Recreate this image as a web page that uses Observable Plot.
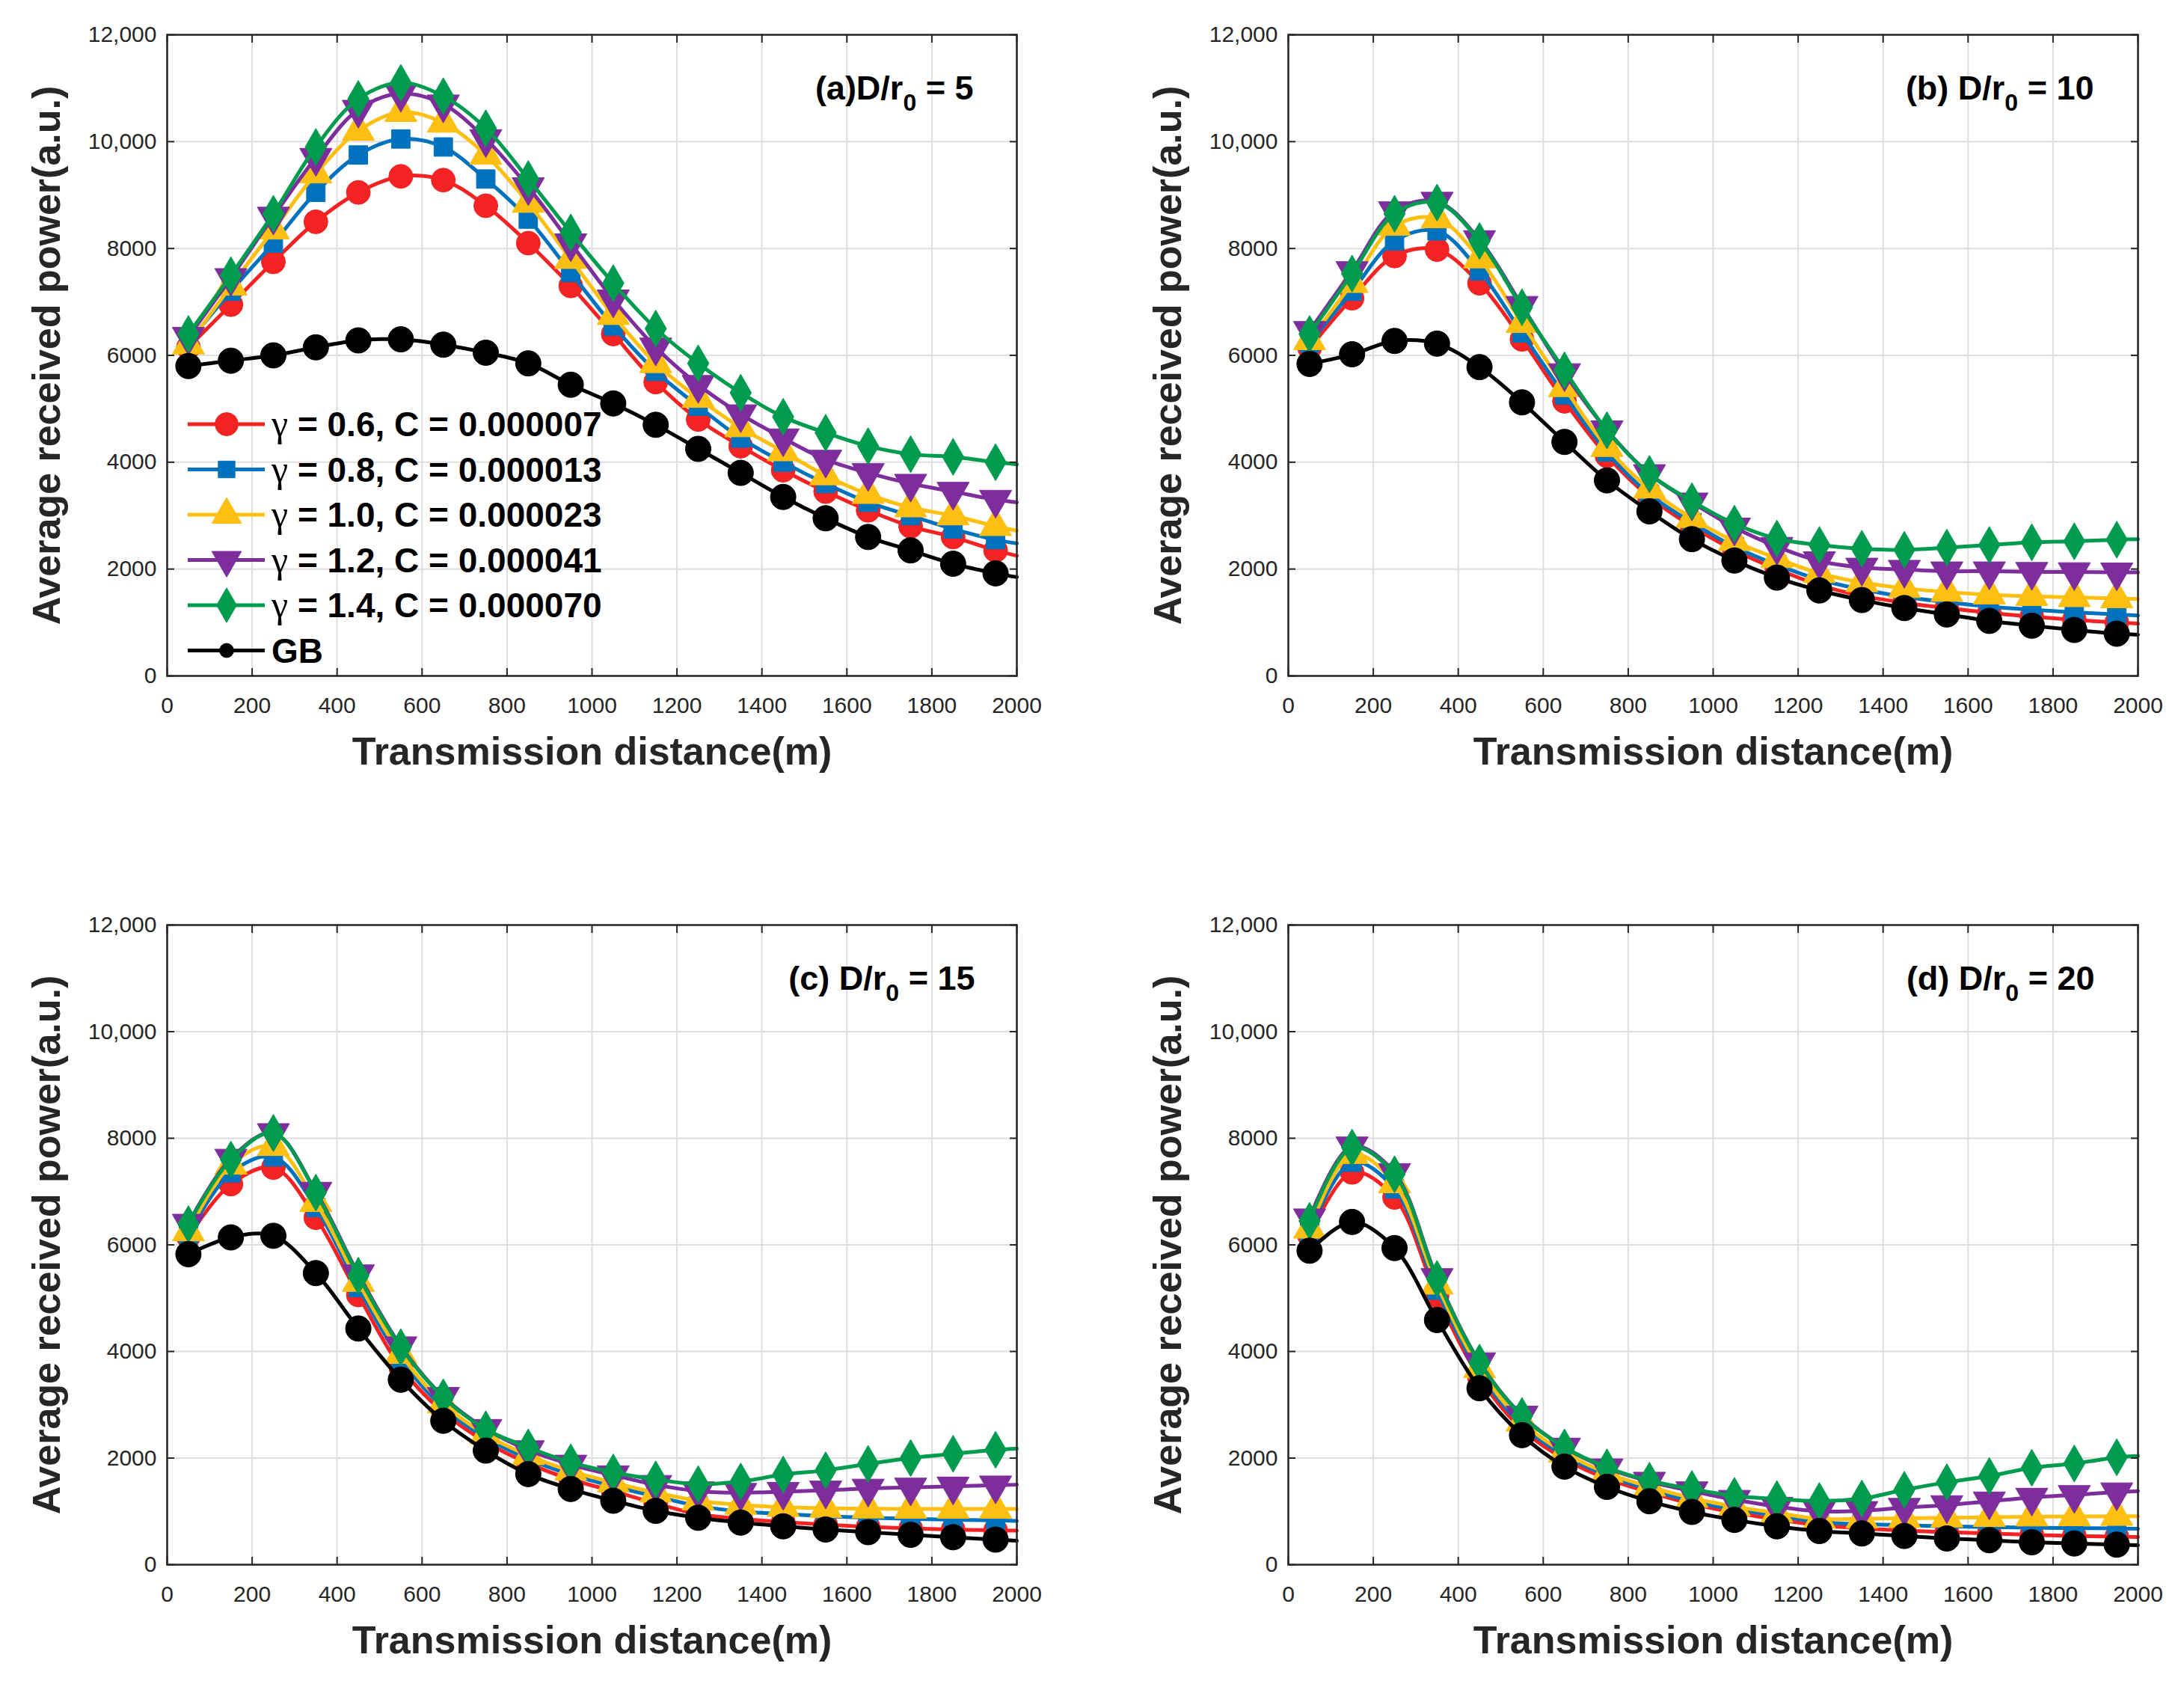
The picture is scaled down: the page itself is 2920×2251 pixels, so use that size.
<!DOCTYPE html>
<html><head><meta charset="utf-8">
<script src="https://cdn.jsdelivr.net/npm/d3@7"></script>
<script src="https://cdn.jsdelivr.net/npm/@observablehq/plot@0.6"></script>
<style>
body{margin:0;background:#fff;}
#wrap{position:relative;width:2920px;height:2251px;background:#fff;font-family:"Liberation Sans",Arial,sans-serif;}
.panel{position:absolute;}
</style></head><body><div id="wrap"></div>
<script>
// ---------- data ----------
const distance = [50,150,250,350,450,550,650,750,850,950,1050,1150,1250,1350,1450,1550,1650,1750,1850,1950];
const xTicks = [0,200,400,600,800,1000,1200,1400,1600,1800,2000];
const yTicks = [0,2000,4000,6000,8000,10000,12000];
const seriesNames = ["γ = 0.6, C = 0.000007","γ = 0.8, C = 0.000013","γ = 1.0, C = 0.000023","γ = 1.2, C = 0.000041","γ = 1.4, C = 0.000070","GB"];
const seriesColors = ["#F42323","#0072BD","#FDBF12","#7D2E9C","#009B4E","#000000"];
const seriesSymbols = ["circle","square","triangle","triangle","diamond","circle"];
const xLabel = "Transmission distance(m)";
const yLabel = "Average received power(a.u.)";

// panel (a) D/r0 = 5
const a06 = [6150,6950,7750,8500,9050,9350,9280,8800,8100,7300,6400,5500,4800,4300,3850,3450,3100,2800,2600,2350];
const a08 = [6250,7200,8100,9050,9750,10050,9900,9300,8550,7550,6550,5700,5050,4450,4000,3600,3250,3000,2750,2550];
const a10 = [6200,7300,8350,9400,10200,10550,10350,9750,8850,7800,6750,5850,5200,4650,4200,3750,3400,3150,3000,2800];
const a12 = [6350,7450,8600,9700,10600,10900,10700,10050,9150,8100,7050,6150,5450,4900,4450,4050,3800,3600,3450,3300];
const a14 = [6400,7500,8650,9900,10800,11100,10850,10250,9300,8300,7350,6500,5850,5300,4850,4550,4300,4150,4100,4000];
const aGB = [5800,5900,6000,6150,6280,6300,6200,6050,5850,5450,5100,4700,4250,3800,3350,2950,2600,2350,2100,1920];
const aEnd = [2250,2480,2720,3250,3960,1850];

// panel (b) D/r0 = 10
const b06 = [6140,7070,7860,7980,7350,6300,5140,4120,3350,2800,2350,2000,1700,1500,1370,1270,1180,1110,1050,1000];
const b08 = [6230,7200,8140,8330,7580,6420,5260,4190,3400,2870,2420,2080,1800,1620,1480,1380,1300,1240,1190,1150];
const b10 = [6280,7350,8420,8560,7810,6600,5400,4280,3500,2950,2520,2200,1920,1750,1640,1570,1520,1490,1470,1450];
const b12 = [6460,7580,8700,8880,8160,6930,5670,4600,3780,3250,2780,2420,2150,2030,1990,1960,1960,1950,1945,1940];
const b14 = [6400,7530,8650,8860,8140,6900,5720,4600,3780,3270,2850,2570,2450,2380,2360,2400,2450,2500,2520,2550];
const bGB = [5840,6020,6270,6220,5780,5120,4380,3660,3080,2560,2160,1840,1600,1420,1270,1150,1030,940,860,790];
const bEnd = [980,1130,1440,1940,2560,770];

// panel (c) D/r0 = 15
const c06 = [6150,7140,7450,6510,5060,3700,2860,2300,1900,1600,1380,1150,950,860,800,750,710,680,660,645];
const c08 = [6200,7350,7650,6700,5200,3850,2950,2380,1980,1690,1470,1280,1100,1000,950,910,880,860,845,830];
const c10 = [6250,7500,7850,6800,5300,3950,3020,2440,2050,1760,1540,1350,1200,1120,1080,1060,1050,1045,1045,1045];
const c12 = [6400,7620,8100,7000,5450,4100,3150,2550,2150,1880,1680,1500,1380,1350,1370,1395,1430,1450,1470,1490];
const c14 = [6390,7600,8100,6980,5420,4080,3140,2540,2200,1920,1730,1600,1510,1560,1690,1770,1890,2000,2080,2155];
const cGB = [5825,6140,6170,5470,4430,3470,2700,2140,1700,1420,1200,1010,880,790,720,660,610,560,515,470];
const cEnd = [640,820,1045,1500,2180,450];

// panel (d) D/r0 = 20
const d06 = [6170,7360,6890,5040,3510,2540,1980,1610,1360,1140,980,850,740,680,640,610,585,560,540,525];
const d08 = [6250,7550,7050,5150,3600,2620,2050,1670,1410,1190,1040,920,800,760,740,720,705,695,685,680];
const d10 = [6300,7700,7150,5250,3680,2680,2100,1720,1460,1250,1090,970,860,860,870,880,890,900,905,910];
const d12 = [6500,7850,7350,5380,3800,2800,2200,1810,1560,1380,1220,1090,1000,1010,1070,1120,1190,1260,1310,1360];
const d14 = [6450,7825,7325,5360,3790,2790,2200,1825,1575,1420,1290,1230,1194,1241,1405,1546,1663,1817,1897,2014];
const dGB = [5890,6430,5940,4590,3310,2430,1840,1460,1190,990,840,720,632,585,539,492,459,421,398,375];
const dEnd = [520,675,910,1380,2040,365];

const titles = [["(a)D/r","0"," = 5"],["(b) D/r","0"," = 10"],["(c) D/r","0"," = 15"],["(d) D/r","0"," = 20"]];

// ---------- layout ----------
const W = 1460, H = 1125;
const panels = [
  {left:0,   top:0,    ml:223, mr:101, mt:46,  mb:222, series:[a06,a08,a10,a12,a14,aGB], end:aEnd, title:titles[0], tdx:-58},
  {left:1460,top:0,    ml:262, mr:62,  mt:46,  mb:222, series:[b06,b08,b10,b12,b14,bGB], end:bEnd, title:titles[1], tdx:-59},
  {left:0,   top:1125, ml:223, mr:101, mt:111, mb:159, series:[c06,c08,c10,c12,c14,cGB], end:cEnd, title:titles[2], tdx:-56},
  {left:1460,top:1125, ml:262, mr:62,  mt:111, mb:159, series:[d06,d08,d10,d12,d14,dGB], end:dEnd, title:titles[3], tdx:-58}
];
const symbolR = [16, 14, 16, 16, 15, 17];
const yFmt = d => d >= 10000 ? d3.format(",")(d) : String(d);
const xFmt = d => String(d);
const wrap = document.getElementById("wrap");

panels.forEach(p => {
  const marks = [
    Plot.gridX(xTicks, {stroke:"#dedede", strokeOpacity:1, strokeWidth:2}),
    Plot.gridY(yTicks, {stroke:"#dedede", strokeOpacity:1, strokeWidth:2})
  ];
  p.series.forEach((vals, si) => {
    const pts = vals.map((v, i) => ({x: distance[i], y: v}));
    const linePts = pts.concat([{x: 2000, y: p.end[si]}]);
    marks.push(Plot.line(linePts, {x:"x", y:"y", stroke: seriesColors[si], strokeWidth: 5, curve: "catmull-rom"}));
    marks.push(Plot.dot(pts, {x:"x", y:"y", symbol: seriesSymbols[si], r: symbolR[si], fill: seriesColors[si], stroke: seriesColors[si], strokeWidth: 1, rotate: si === 3 ? 180 : 0}));
  });
  marks.push(
    Plot.frame({stroke:"#262626", strokeWidth:2.5}),
    Plot.axisX(xTicks, {anchor:"bottom", tickSize:0, tickPadding:28, fontSize:30, fill:"#262626", tickFormat: xFmt, label:null}),
    Plot.axisY(yTicks, {anchor:"left", tickSize:0, tickPadding:14, fontSize:30, fill:"#262626", tickFormat: yFmt, label:null}),
    Plot.axisX(xTicks, {anchor:"bottom", tickSize:-10, tickFormat: () => "", stroke:"#262626", strokeWidth:2, label:null}),
    Plot.axisX(xTicks, {anchor:"top", tickSize:-10, tickFormat: () => "", stroke:"#262626", strokeWidth:2, label:null}),
    Plot.axisY(yTicks, {anchor:"left", tickSize:-10, tickFormat: () => "", stroke:"#262626", strokeWidth:2, label:null}),
    Plot.axisY(yTicks, {anchor:"right", tickSize:-10, tickFormat: () => "", stroke:"#262626", strokeWidth:2, label:null}),
    Plot.text([yLabel], {text: d => d, frameAnchor:"left", textAnchor:"middle", lineAnchor:"middle", dx:-160, rotate:-90, fontSize:52, fontWeight:"bold", fill:"#262626"}),
    Plot.text([xLabel], {text: d => d, frameAnchor:"bottom", textAnchor:"middle", lineAnchor:"middle", dy:102, fontSize:52, fontWeight:"bold", fill:"#262626"}),
    Plot.text([p.title.join("")], {text: d => d, frameAnchor:"top-right", textAnchor:"end", lineAnchor:"middle", dx:p.tdx, dy:72, fontSize:45, fontWeight:"bold", fill:"#000", className:"ptitle"})
  );
  const svg = Plot.plot({
    width: W, height: H,
    marginLeft: p.ml, marginRight: p.mr, marginTop: p.mt, marginBottom: p.mb,
    x: {domain:[0,2000]},
    y: {domain:[0,12000]},
    style: {fontFamily:'"Liberation Sans", Arial, sans-serif', background:"#fff", overflow:"visible"},
    marks
  });
  // subscript in panel title
  const t = d3.select(svg).select("g.ptitle text");
  t.text(null);
  t.append("tspan").text(p.title[0]);
  t.append("tspan").attr("dy", 15).attr("font-size", 32).text(p.title[1]);
  t.append("tspan").attr("dy", -15).text(p.title[2]);
  const div = document.createElement("div");
  div.className = "panel";
  div.style.left = p.left + "px";
  div.style.top = p.top + "px";
  div.appendChild(svg);
  wrap.appendChild(div);
});

// ---------- legend (inside panel a) ----------
const leg = d3.select("#wrap").append("svg")
  .attr("width", 680).attr("height", 380)
  .style("position","absolute").style("left","223px").style("top","530px");
const legSymbols = [d3.symbolCircle, d3.symbolSquare, d3.symbolTriangle, d3.symbolTriangle, d3.symbolDiamond, d3.symbolCircle];
const legSizes = [750, 500, 680, 680, 620, 280];
seriesNames.forEach((name, i) => {
  const y = 37 + i * 60.5;
  const g = leg.append("g").attr("transform", `translate(0,${y})`);
  g.append("line").attr("x1", 28).attr("x2", 131).attr("y1", 0).attr("y2", 0)
    .attr("stroke", seriesColors[i]).attr("stroke-width", 5);
  g.append("path").attr("d", d3.symbol(legSymbols[i], legSizes[i])())
    .attr("transform", `translate(80,0)` + (i === 3 ? " rotate(180)" : ""))
    .attr("fill", seriesColors[i]).attr("stroke", seriesColors[i]);
  const tx = g.append("text").attr("x", 140).attr("y", 16).attr("fill", "#000")
    .attr("font-size", 46).attr("font-weight", "bold")
    .attr("font-family", '"Liberation Sans", Arial, sans-serif');
  if (name.startsWith("γ")) {
    tx.append("tspan").attr("font-family", '"Liberation Serif", serif').attr("font-weight", "normal").attr("font-size", 50).text("γ");
    tx.append("tspan").text(name.slice(1));
  } else {
    tx.text(name);
  }
});
</script></body></html>
